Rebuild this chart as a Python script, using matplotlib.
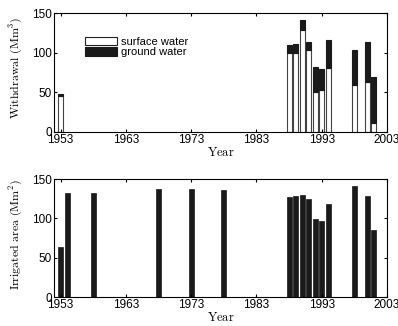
import matplotlib
matplotlib.use("Agg")
import matplotlib.pyplot as plt
from matplotlib.patches import Patch

plt.rcParams['font.family'] = ['Liberation Sans', 'DejaVu Sans']
plt.rcParams['mathtext.fontset'] = 'cm'

# Withdrawal data
w_years = [1953, 1988, 1989, 1990, 1991, 1992, 1993, 1994, 1998, 2000, 2001]
surface = [46, 100, 100, 129, 103, 51, 53, 81, 59, 63, 11]
ground = [1.5, 10, 10.5, 12, 11, 31, 26.5, 35, 44, 51, 58]

# Irrigated area data
a_years = [1953, 1954, 1958, 1968, 1973, 1978, 1988, 1989, 1990, 1991, 1992,
           1993, 1994, 1998, 2000, 2001]
area = [63, 132, 132, 137, 137, 136, 127, 128, 130, 124, 99, 97, 118, 141,
        129, 85]

xticks = [1953, 1963, 1973, 1983, 1993, 2003]
yticks = [0, 50, 100, 150]

fig = plt.figure(figsize=(3.98, 3.26), dpi=100)
ax1 = fig.add_axes([54/398, (326-132)/326, 333/398, 119/326])
ax2 = fig.add_axes([54/398, (326-297)/326, 333/398, 118/326])

bw = 0.78
ax1.bar(w_years, surface, width=bw, color='white', edgecolor='#444444',
        linewidth=0.8)
ax1.bar(w_years, ground, width=bw, bottom=surface, color='#1a1a1a',
        edgecolor='#1a1a1a', linewidth=0.8)
ax2.bar(a_years, area, width=bw, color='#1a1a1a', edgecolor='#1a1a1a',
        linewidth=0.5)

for ax in (ax1, ax2):
    ax.set_xlim(1952, 2003)
    ax.set_ylim(0, 150)
    ax.set_xticks(xticks)
    ax.set_yticks(yticks)
    ax.tick_params(direction='in', top=True, right=True, length=2.5,
                   width=0.8, labelsize=8.5, pad=1.5)
    for s in ax.spines.values():
        s.set_linewidth(0.8)
    ax.set_xlabel(r'$\mathrm{Year}$', fontsize=9, labelpad=0)

ax1.set_ylabel(r'$\mathrm{Withdrawal\ (Mm^3)}$', fontsize=8.6)
ax2.set_ylabel(r'$\mathrm{Irrigated\ area\ (Mm^2)}$', fontsize=8.6)
ax1.yaxis.set_label_coords(-0.087, 0.54)
ax2.yaxis.set_label_coords(-0.087, 0.53)

handles = [Patch(facecolor='white', edgecolor='#222222', linewidth=0.8),
           Patch(facecolor='#1a1a1a', edgecolor='#1a1a1a', linewidth=0.8)]
ax1.legend(handles, ['surface water', 'ground water'], frameon=False,
           loc='upper left', bbox_to_anchor=(0.093, 0.8), fontsize=8,
           handlelength=2.9, handleheight=0.75, handletextpad=0.3,
           labelspacing=0.05, borderpad=0, borderaxespad=0)

fig.savefig('out.png', dpi=100)
